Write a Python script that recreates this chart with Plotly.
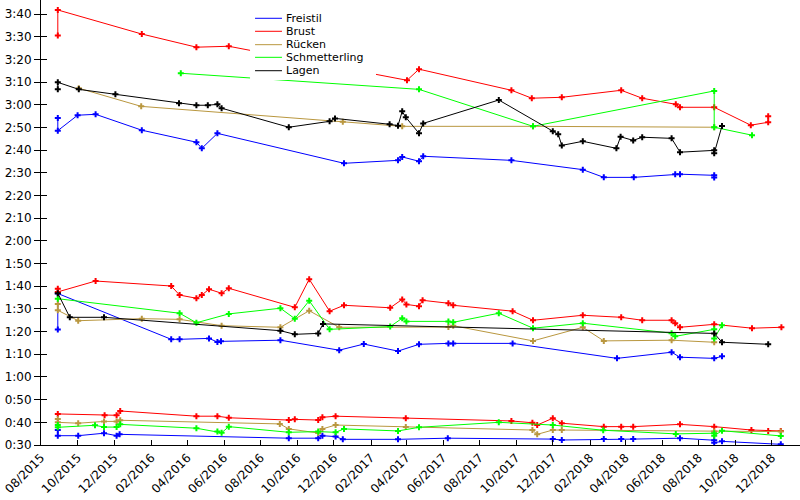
import plotly.graph_objects as go

# ---------------- data (times in seconds) ----------------
names = ["Freistil", "Brust", "Rücken", "Schmetterling", "Lagen"]
colors = ["#0000ff", "#ff0000", "#b9973f", "#00ff00", "#000000"]

frei_200_d = ["2015-08-29", "2015-08-29", "2015-10-01", "2015-10-31", "2016-01-16", "2016-04-16", "2016-04-25",
              "2016-05-21", "2016-12-18", "2017-03-18", "2017-03-25", "2017-04-22", "2017-04-29", "2017-09-23",
              "2018-01-20", "2018-02-24", "2018-04-15", "2018-06-23", "2018-07-01", "2018-08-27", "2018-08-27"]
frei_200_t = [174.2, 168.6, 175.4, 175.8, 168.8, 163.5, 160.8, 167.4, 154.2, 155.5, 157.0, 155.1, 157.3, 155.5,
              151.4, 148.0, 148.0, 149.4, 149.4, 148.9, 147.9]
frei_100_d = ["2015-08-29", "2015-08-29", "2016-03-05", "2016-03-19", "2016-05-07", "2016-05-21", "2016-05-27",
              "2016-09-03", "2016-12-10", "2017-01-20", "2017-03-18", "2017-04-22", "2017-06-10", "2017-06-18",
              "2017-09-25", "2018-03-18", "2018-06-17", "2018-07-01", "2018-08-27", "2018-09-09"]
frei_100_t = [80.9, 96.8, 76.6, 76.6, 77.0, 75.4, 75.7, 76.2, 71.8, 74.5, 71.4, 74.4, 74.8, 74.8, 74.8, 68.2,
              70.9, 68.7, 68.2, 69.1]
frei_50_d = ["2015-08-29", "2015-08-29", "2015-10-02", "2015-11-14", "2015-12-05", "2015-12-10", "2016-09-17",
             "2016-11-05", "2016-11-12", "2016-12-04", "2016-12-16", "2017-03-18", "2017-06-09", "2017-12-01",
             "2017-12-16", "2018-02-24", "2018-03-25", "2018-04-14", "2018-07-01", "2018-08-27", "2018-08-27",
             "2018-09-09", "2018-12-16"]
frei_50_t = [36.6, 34.1, 34.1, 35.2, 34.1, 34.7, 33.0, 33.0, 34.1, 33.7, 32.5, 32.5, 33.0, 32.6, 32.2, 32.6,
             32.6, 32.6, 33.0, 32.1, 31.0, 31.6, 30.3]

brust_200_d = ["2015-08-29", "2015-08-29", "2016-01-16", "2016-04-16", "2016-06-09", "2017-04-02", "2017-04-22",
               "2017-09-23", "2017-10-27", "2017-12-16", "2018-03-25", "2018-04-29", "2018-06-24", "2018-07-01",
               "2018-08-27", "2018-10-27", "2018-11-25", "2018-11-25"]
brust_200_t = [210.5, 221.8, 211.2, 205.4, 205.8, 190.8, 195.7, 186.4, 182.9, 183.3, 186.4, 182.9, 180.2, 178.9,
               178.9, 171.0, 172.3, 174.9]
brust_100_d = ["2015-08-29", "2015-08-29", "2015-10-31", "2016-03-05", "2016-03-19", "2016-04-16", "2016-04-25",
               "2016-05-07", "2016-05-28", "2016-06-09", "2016-09-27", "2016-10-21", "2016-11-24", "2016-12-18",
               "2017-03-05", "2017-03-25", "2017-04-01", "2017-04-22", "2017-04-28", "2017-06-10", "2017-06-18",
               "2017-09-25", "2017-10-29", "2018-01-20", "2018-03-25", "2018-04-29", "2018-06-17", "2018-06-23",
               "2018-07-01", "2018-08-27", "2018-10-29", "2018-12-17"]
brust_100_t = [98.9, 97.5, 102.3, 100.1, 96.1, 94.7, 96.1, 98.7, 96.9, 99.1, 90.7, 103.1, 89.0, 91.6, 90.5,
               94.2, 92.0, 91.2, 93.8, 92.5, 91.6, 89.0, 85.0, 87.2, 86.3, 85.0, 85.0, 83.7, 81.9, 83.2, 81.5, 81.9]
brust_50_d = ["2015-08-29", "2015-11-15", "2015-12-05", "2015-12-11", "2016-04-16", "2016-05-21", "2016-06-09",
              "2016-09-17", "2016-09-27", "2016-11-05", "2016-11-12", "2016-12-04", "2017-03-31", "2017-09-23",
              "2017-10-28", "2017-11-05", "2017-12-01", "2017-12-16", "2018-02-24", "2018-03-25", "2018-04-14",
              "2018-07-01", "2018-08-27", "2018-10-28", "2018-11-25", "2018-12-16"]
brust_50_t = [43.7, 43.1, 43.1, 45.0, 42.7, 42.7, 42.0, 41.0, 41.3, 41.0, 42.2, 42.7, 41.8, 40.6, 39.8, 38.8,
              41.8, 39.6, 38.1, 38.1, 38.1, 39.1, 38.1, 36.6, 36.2, 36.2]

rueck_200_d = ["2015-10-03", "2016-01-15", "2016-12-16", "2017-03-25", "2017-10-29", "2018-08-27"]
rueck_200_t = [187.3, 179.3, 172.5, 170.5, 170.5, 170.1]
rueck_100_d = ["2015-08-29", "2015-08-29", "2015-10-02", "2016-01-16", "2016-03-19", "2016-05-28", "2016-09-03",
               "2016-10-21", "2016-12-10", "2017-06-10", "2017-06-18", "2017-10-29", "2018-01-20", "2018-02-24",
               "2018-06-17", "2018-08-27"]
rueck_100_t = [92.2, 89.4, 84.8, 85.7, 85.4, 82.6, 81.9, 89.2, 81.9, 82.0, 82.6, 75.9, 81.9, 75.9, 76.2, 75.3]
rueck_50_d = ["2015-08-29", "2015-08-29", "2015-10-02", "2015-11-14", "2015-12-05", "2015-12-11", "2016-09-02",
              "2016-09-17", "2016-11-05", "2016-11-12", "2016-12-04", "2017-03-31", "2017-10-28", "2017-11-05",
              "2017-12-01", "2017-12-16", "2018-08-27", "2018-12-16"]
rueck_50_t = [41.5, 40.0, 39.6, 40.4, 40.4, 40.9, 39.3, 37.1, 35.3, 37.1, 38.8, 37.9, 36.6, 34.7, 36.6, 36.6,
              35.9, 35.9]

schm_200_d = ["2016-03-21", "2017-04-22", "2017-10-29", "2018-08-27", "2018-08-27", "2018-10-29"]
schm_200_t = [193.9, 186.8, 170.5, 186.1, 170.1, 166.6]
schm_100_d = ["2015-08-29", "2016-03-19", "2016-04-16", "2016-06-09", "2016-09-03", "2016-09-27", "2016-10-21",
              "2016-11-24", "2017-03-05", "2017-03-25", "2017-04-01", "2017-06-10", "2017-06-18", "2017-09-02",
              "2017-10-29", "2018-01-20", "2018-06-17", "2018-06-23", "2018-08-27", "2018-08-27", "2018-09-09"]
schm_100_t = [94.5, 88.1, 83.9, 87.8, 90.3, 85.7, 93.6, 81.0, 82.2, 85.9, 84.5, 84.5, 84.1, 88.1, 81.5, 83.7,
              79.3, 77.9, 81.0, 77.0, 82.8]
schm_50_d = ["2015-08-29", "2015-08-29", "2015-10-30", "2015-11-14", "2015-12-05", "2015-12-11", "2016-04-16",
             "2016-05-21", "2016-05-28", "2016-06-09", "2016-09-17", "2016-11-05", "2016-12-04", "2016-12-18",
             "2017-03-18", "2017-04-22", "2017-09-02", "2017-12-01", "2018-02-23", "2018-06-24", "2018-08-27",
             "2018-08-27", "2018-09-09", "2018-12-16"]
schm_50_t = [38.8, 37.8, 38.7, 37.9, 37.9, 39.1, 37.4, 35.9, 35.4, 38.1, 35.6, 35.9, 35.6, 37.1, 36.2, 37.8,
             40.0, 38.8, 36.5, 34.9, 35.2, 34.1, 36.3, 34.0]

lagen_200_d = ["2015-08-29", "2015-08-29", "2015-10-03", "2015-12-03", "2016-03-18", "2016-04-16", "2016-05-05",
               "2016-05-21", "2016-05-28", "2016-09-17", "2016-11-24", "2016-12-03", "2017-03-04", "2017-03-18",
               "2017-03-25", "2017-03-31", "2017-04-22", "2017-04-29", "2017-09-02", "2017-12-01", "2017-12-10",
               "2017-12-16", "2018-01-20", "2018-03-17", "2018-03-24", "2018-04-14", "2018-04-29", "2018-06-17",
               "2018-07-01", "2018-08-27", "2018-08-27", "2018-09-09"]
lagen_200_t = [186.8, 189.9, 186.8, 184.6, 180.7, 179.8, 179.8, 180.2, 178.5, 170.1, 172.7, 174.0, 171.4, 170.8,
               177.1, 174.5, 167.4, 171.8, 182.1, 168.3, 167.0, 162.1, 163.9, 160.8, 165.9, 164.3, 165.7, 165.2,
               159.1, 159.9, 158.6, 170.7]
lagen_100_d = ["2015-08-29", "2015-09-18", "2015-11-14", "2016-09-03", "2016-09-27", "2016-11-05", "2016-11-13",
               "2018-08-27", "2018-09-09", "2018-11-25"]
lagen_100_t = [96.9, 86.3, 86.3, 80.4, 78.8, 79.2, 83.4, 79.2, 75.3, 74.4]

series = [
    [(frei_200_d, frei_200_t), (frei_100_d, frei_100_t), (frei_50_d, frei_50_t)],
    [(brust_200_d, brust_200_t), (brust_100_d, brust_100_t), (brust_50_d, brust_50_t)],
    [(rueck_200_d, rueck_200_t), (rueck_100_d, rueck_100_t), (rueck_50_d, rueck_50_t)],
    [(schm_200_d, schm_200_t), (schm_100_d, schm_100_t), (schm_50_d, schm_50_t)],
    [(lagen_200_d, lagen_200_t), (lagen_100_d, lagen_100_t)],
]

y_ticks = list(range(30, 221, 10))
y_labels = [f"{v // 60}:{v % 60:02d}" for v in y_ticks]

# ---------------- figure ----------------
fig = go.Figure()
for name, col, parts in zip(names, colors, series):
    xs, ys = [], []
    for d, t in parts:
        xs += d + [None]
        ys += t + [None]
    fig.add_trace(go.Scatter(x=xs, y=ys, mode="lines+markers", name=name, showlegend=False,
                             line=dict(color=col, width=1),
                             marker=dict(symbol="cross", size=5, color=col, line=dict(width=0))))

# invisible trace to activate the overlay axis (inner tick halves)
fig.add_trace(go.Scatter(x=["2016-01-01"], y=[100], yaxis="y2", mode="markers",
                         marker=dict(opacity=0), showlegend=False, hoverinfo="skip"))

font = dict(family="DejaVu Sans", size=12, color="#000000")
legend_font = dict(family="DejaVu Sans", size=11, color="#000000")
fig.update_layout(
    width=800, height=500,
    margin=dict(l=41, r=0, t=0, b=55),
    paper_bgcolor="white", plot_bgcolor="white",
    font=font,
    showlegend=False,
    xaxis=dict(type="date", range=["2015-08-01", "2019-01-17"],
               tick0="2015-08-01", dtick="M2", tickformat="%m/%Y", tickangle=-45,
               ticks="inside", ticklen=5, tickcolor="black", tickwidth=1,
               showline=True, linecolor="black", linewidth=1, showgrid=False, zeroline=False,
               tickfont=font),
    yaxis=dict(range=[30, 226.2], tickvals=y_ticks, ticktext=y_labels,
               ticks="outside", ticklen=6, tickcolor="black", tickwidth=1,
               showline=True, linecolor="black", linewidth=1, showgrid=False, zeroline=False,
               tickfont=font),
    yaxis2=dict(range=[30, 226.2], overlaying="y", side="left", anchor="x",
                tickvals=y_ticks, showticklabels=False, ticks="inside", ticklen=6,
                tickcolor="black", showline=False, showgrid=False, zeroline=False),
)

# ---------------- legend (drawn manually, compact like the original) ----------------
shapes = [dict(type="rect", xref="paper", yref="paper", x0=0.2754, x1=0.4414, y0=0.8202, y1=0.9775,
               fillcolor="white", line=dict(width=0), layer="above")]
annotations = []
row_y = [0.9589, 0.9297, 0.8996, 0.8712, 0.8411]
for name, col, ry in zip(names, colors, row_y):
    shapes.append(dict(type="line", xref="paper", yref="paper", x0=0.2820, x1=0.3175, y0=ry, y1=ry,
                       line=dict(color=col, width=1), layer="above"))
    annotations.append(dict(xref="paper", yref="paper", x=0.3215, y=ry, text=name, showarrow=False,
                            xanchor="left", yanchor="middle", borderpad=0, font=legend_font))
fig.update_layout(shapes=shapes, annotations=annotations)

fig.write_html("out.html")
